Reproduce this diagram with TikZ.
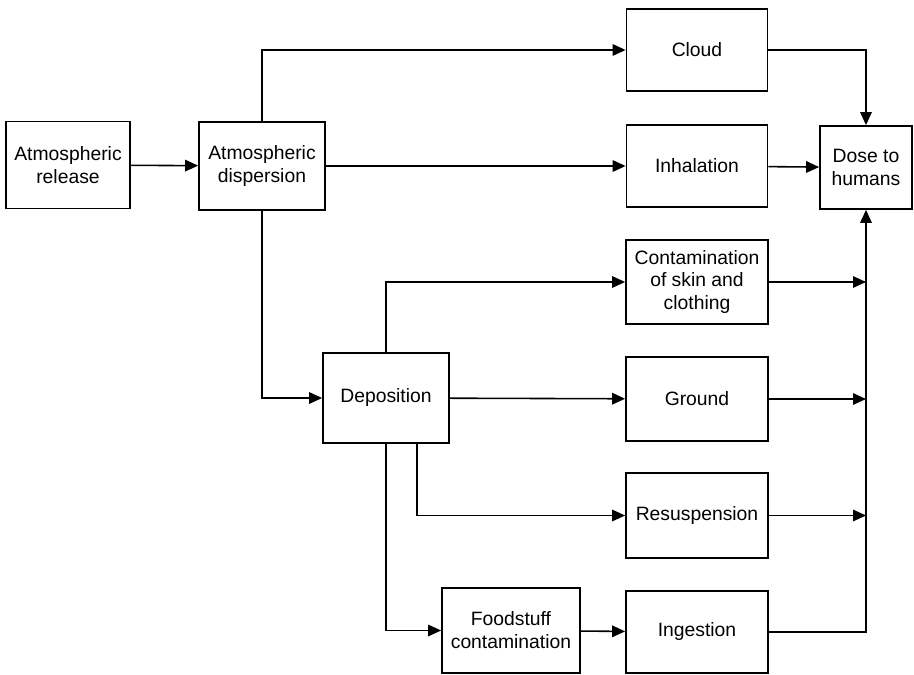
\documentclass[tikz,border=0pt]{standalone}
\usepackage{fontspec}
\setmainfont{Liberation Sans}
\usepackage{tikz}
\usetikzlibrary{arrows.meta}

\begin{document}
\begin{tikzpicture}[x=0.02cm,y=-0.02cm,
    stage/.style={draw,line width=1pt,align=center,inner sep=2pt,
        font=\fontsize{11}{13}\selectfont},
    flow/.style={line width=0.9pt,-{Triangle[length=2.6mm,width=2.3mm]}}]
        \useasboundingbox (0,0) rectangle (914,675);
        % Boxes of the exposure pathways
        \node[stage,minimum width=2.48cm,minimum height=1.74cm] (release) at (68,165) {Atmospheric\\release};
        \node[stage,minimum width=2.52cm,minimum height=1.76cm] (dispersion) at (262,166) {Atmospheric\\dispersion};
        \node[stage,minimum width=2.82cm,minimum height=1.64cm] (cloud) at (697,50) {Cloud};
        \node[stage,minimum width=2.82cm,minimum height=1.64cm] (inhalation) at (697,166) {Inhalation};
        \node[stage,minimum width=1.84cm,minimum height=1.66cm] (dose) at (866,167.5) {Dose to\\humans};
        \node[stage,minimum width=2.84cm,minimum height=1.68cm] (skin) at (697,282) {Contamination\\of skin and\\clothing};
        \node[stage,minimum width=2.52cm,minimum height=1.80cm] (deposition) at (386,398) {Deposition};
        \node[stage,minimum width=2.84cm,minimum height=1.68cm] (ground) at (697,399) {Ground};
        \node[stage,minimum width=2.84cm,minimum height=1.70cm] (resusp) at (697,515.5) {Resuspension};
        \node[stage,minimum width=2.76cm,minimum height=1.70cm] (food) at (511,630.5) {Foodstuff\\contamination};
        \node[stage,minimum width=2.84cm,minimum height=1.64cm] (ingestion) at (697,632) {Ingestion};
        \coordinate (resusptap) at (417,443);
        % Connectors
        \draw[flow] (release) -- (dispersion);
        \draw[flow] (dispersion.north) |- (cloud.west);
        \draw[flow] (dispersion) -- (inhalation);
        \draw[flow] (dispersion.south) |- (deposition.west);
        \draw[flow] (cloud.east) -| (dose.north);
        \draw[flow] (inhalation) -- (dose);
        \draw[flow] (deposition.north) |- (skin.west);
        \draw[flow] (deposition) -- (ground);
        \draw[flow] (resusptap) |- (resusp.west);
        \draw[flow] (deposition.south) |- (food.west);
        \draw[flow] (food) -- (ingestion);
        \draw[flow] (ingestion.east) -| (dose.south);
        \draw[flow] (skin.east) -- (skin.east -| dose.south);
        \draw[flow] (ground.east) -- (ground.east -| dose.south);
        \draw[flow] (resusp.east) -- (resusp.east -| dose.south);
    \end{tikzpicture}
\end{document}
